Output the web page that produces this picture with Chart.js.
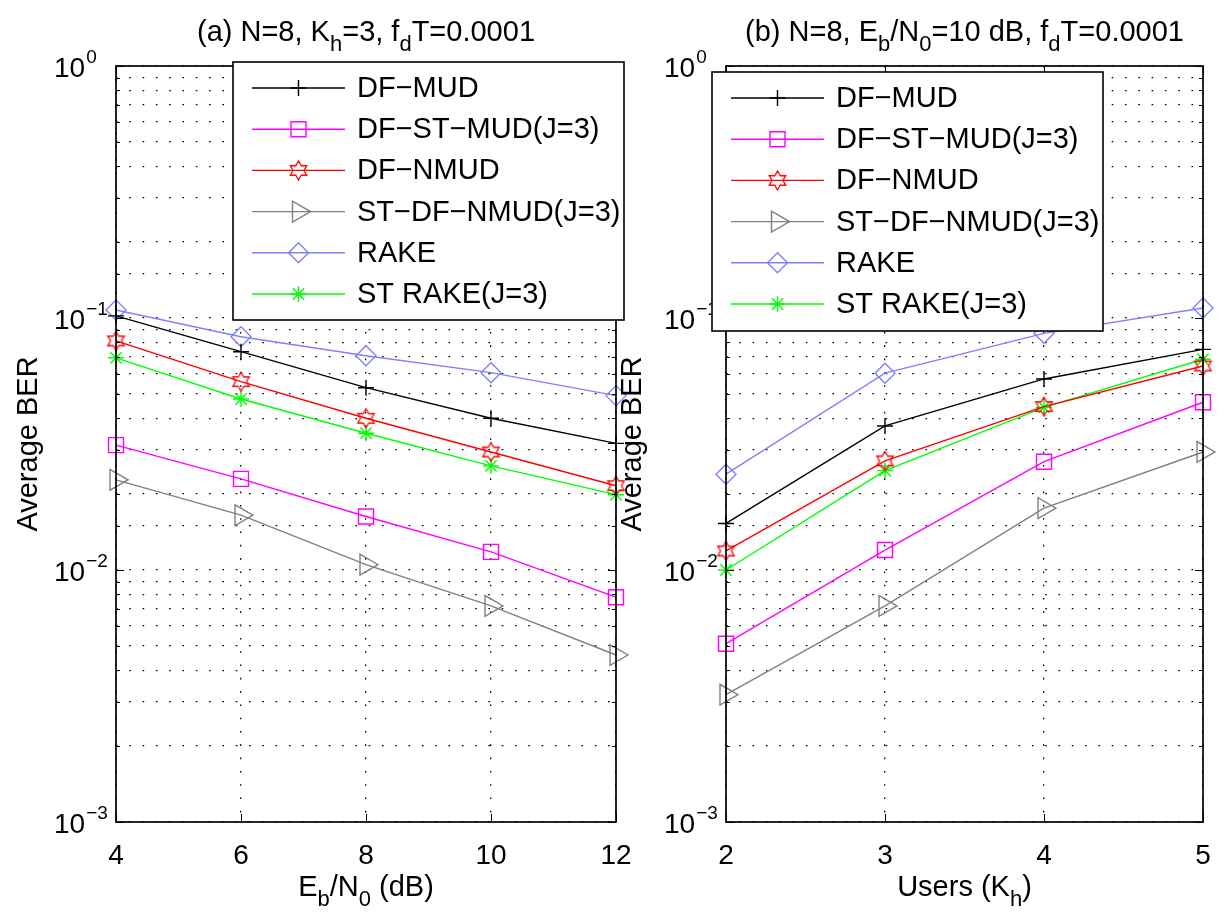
<!DOCTYPE html>
<html>
<head>
<meta charset="utf-8">
<script src="https://cdn.jsdelivr.net/npm/chart.js"></script>
<style>
  html, body { margin: 0; padding: 0; background: #fff; }
  #wrap { position: relative; width: 1224px; height: 917px; }
  #wrap canvas { position: absolute; left: 0; top: 0; }
</style>
</head>
<body>
<div id="wrap">
  <canvas id="chartA" width="1224" height="917"></canvas>
  <canvas id="chartB" width="1224" height="917"></canvas>
</div>
<script>
// x values
const ebN0 = [4, 6, 8, 10, 12];
const usersK = [2, 3, 4, 5];

// tick labels
const xTicksA = [4, 6, 8, 10, 12];
const xTicksB = [2, 3, 4, 5];
const yDecades = [1, 0.1, 0.01, 0.001];
const yDecadeExp = ['0', '−1', '−2', '−3'];

const seriesNames = ['DF−MUD', 'DF−ST−MUD(J=3)', 'DF−NMUD', 'ST−DF−NMUD(J=3)', 'RAKE', 'ST RAKE(J=3)'];

// (a) BER vs Eb/N0
const berA_dfMud    = [0.102, 0.0735, 0.0529, 0.0400, 0.0318];
const berA_dfStMud  = [0.0313, 0.0230, 0.0163, 0.0118, 0.0078];
const berA_dfNmud   = [0.0811, 0.0559, 0.0400, 0.0294, 0.0216];
const berA_stDfNmud = [0.0228, 0.0165, 0.0105, 0.0072, 0.0046];
const berA_rake     = [0.1076, 0.0843, 0.0708, 0.0607, 0.0492];
const berA_stRake   = [0.0695, 0.0477, 0.0349, 0.0259, 0.0199];

// (b) BER vs users
const berB_dfMud    = [0.0153, 0.0373, 0.0573, 0.0751];
const berB_dfStMud  = [0.0051, 0.0120, 0.0269, 0.0463];
const berB_dfNmud   = [0.0119, 0.0271, 0.0445, 0.0645];
const berB_stDfNmud = [0.0032, 0.0072, 0.0176, 0.0294];
const berB_rake     = [0.0240, 0.0604, 0.0869, 0.1096];
const berB_stRake   = [0.0100, 0.0248, 0.0442, 0.0686];

const FONT = "'Liberation Sans', Arial, Helvetica, sans-serif";
const LW = 1.4;

// matlab hexagram marker, Chart.js has none
function hexagram(color, R) {
  const s = Math.ceil(2 * R + 4);
  const c = document.createElement('canvas');
  c.width = s; c.height = s;
  const g = c.getContext('2d');
  g.strokeStyle = color; g.lineWidth = 1.3;
  g.beginPath();
  const r = R / Math.sqrt(3);
  for (let k = 0; k < 12; k++) {
    const ang = -Math.PI / 2 + k * Math.PI / 6;
    const rr = k % 2 ? r : R;
    const px = s / 2 + rr * Math.cos(ang), py = s / 2 + rr * Math.sin(ang);
    if (k) g.lineTo(px, py); else g.moveTo(px, py);
  }
  g.closePath(); g.stroke();
  return c;
}

const seriesStyle = [
  { color: '#000000', point: 'cross', radius: 8 },
  { color: '#ff00ff', point: 'rect', radius: 10.6 },
  { color: '#ff0000', point: hexagram('#ff0000', 9.5), radius: 10 },
  { color: '#808080', point: 'triangle', rotation: 90, radius: 12 },
  { color: '#8080ff', point: 'rectRot', radius: 10 },
  { color: '#00ff00', point: 'star', radius: 8 }
];

function drawRich(ctx, parts, x, y, size, align) {
  const small = Math.round(size * 0.75);
  let w = 0;
  parts.forEach(([t, k]) => { ctx.font = (k ? small : size) + 'px ' + FONT; w += ctx.measureText(t).width; });
  let cx = align === 'center' ? x - w / 2 : (align === 'right' ? x - w : x);
  ctx.textAlign = 'left';
  ctx.textBaseline = 'alphabetic';
  parts.forEach(([t, k]) => {
    ctx.font = (k ? small : size) + 'px ' + FONT;
    const dy = k === 'sub' ? size * 0.33 : (k === 'sup' ? -size * 0.45 : 0);
    ctx.fillText(t, cx, y + dy);
    cx += ctx.measureText(t).width;
  });
}

const matlabDecor = {
  id: 'matlabDecor',
  afterDraw(chart, args, o) {
    const { ctx, chartArea: a } = chart;
    const x = chart.scales.x, y = chart.scales.y;
    ctx.save();
    ctx.fillStyle = '#000';
    ctx.strokeStyle = '#000';

    // inner tick marks
    ctx.lineWidth = 1;
    ctx.beginPath();
    y.ticks.forEach(t => {
      const lg = Math.log10(t.value);
      const major = Math.abs(lg - Math.round(lg)) < 1e-6;
      const len = major ? 8 : 4;
      const py = Math.round(y.getPixelForValue(t.value)) + 0.5;
      ctx.moveTo(a.left, py); ctx.lineTo(a.left + len, py);
      ctx.moveTo(a.right, py); ctx.lineTo(a.right - len, py);
    });
    o.xTicks.forEach(v => {
      const px = Math.round(x.getPixelForValue(v)) + 0.5;
      ctx.moveTo(px, a.bottom); ctx.lineTo(px, a.bottom - 8);
      ctx.moveTo(px, a.top); ctx.lineTo(px, a.top + 8);
    });
    ctx.stroke();

    // frame
    ctx.lineWidth = 1.7;
    ctx.strokeRect(a.left, a.top, a.right - a.left, a.bottom - a.top);

    // y tick labels 10^k
    yDecades.forEach((v, i) => {
      const py = y.getPixelForValue(v);
      ctx.font = '28px ' + FONT;
      ctx.textAlign = 'left'; ctx.textBaseline = 'alphabetic';
      const x0 = a.left - 62;
      ctx.fillText('10', x0, py + 10.5);
      const w = ctx.measureText('10').width;
      ctx.font = '19px ' + FONT;
      ctx.fillText(yDecadeExp[i], x0 + w + 1, py - 3);
    });

    // x tick labels
    ctx.font = '28px ' + FONT;
    ctx.textAlign = 'center'; ctx.textBaseline = 'alphabetic';
    o.xTicks.forEach(v => ctx.fillText(String(v), x.getPixelForValue(v), 864));

    // titles
    const cxA = (a.left + a.right) / 2;
    drawRich(ctx, o.title, cxA, 41, 29, 'center');
    drawRich(ctx, o.xTitle, cxA, 896, 29, 'center');

    ctx.save();
    ctx.translate(o.yTitleX, (a.top + a.bottom) / 2);
    ctx.rotate(-Math.PI / 2);
    ctx.font = '29px ' + FONT;
    ctx.textAlign = 'center'; ctx.textBaseline = 'middle';
    ctx.fillText('Average BER', 0, 0);
    ctx.restore();

    // legend box
    const L = o.legend;
    ctx.fillStyle = '#fff';
    ctx.fillRect(L.x, L.y, L.w, L.h);
    ctx.lineWidth = 1.6;
    ctx.strokeStyle = '#000';
    ctx.strokeRect(L.x, L.y, L.w, L.h);
    chart.data.datasets.forEach((ds, i) => {
      const st = seriesStyle[i];
      const ry = L.y + 26 + i * 41.2;
      ctx.strokeStyle = st.color;
      ctx.lineWidth = LW;
      ctx.beginPath();
      ctx.moveTo(L.x + 19, ry); ctx.lineTo(L.x + 112, ry);
      ctx.stroke();
      const mx = L.x + 65.5;
      ctx.fillStyle = 'rgba(0,0,0,0)';
      if (Chart.helpers && Chart.helpers.drawPoint) {
        Chart.helpers.drawPoint(ctx, { pointStyle: st.point, rotation: st.rotation || 0, radius: st.radius, borderWidth: LW }, mx, ry);
      }
      ctx.fillStyle = '#000';
      ctx.font = '29px ' + FONT;
      ctx.textAlign = 'left'; ctx.textBaseline = 'middle';
      ctx.fillText(ds.label, L.x + 124, ry + 1);
    });
    ctx.restore();
  }
};

function makeChart(id, xs, series, xmin, xmax, step, pad, deco) {
  const dotted = { color: '#000', lineWidth: 1.3, drawTicks: false };
  const dots = { display: false, dash: [1.6, 11.7] };
  return new Chart(document.getElementById(id), {
    type: 'line',
    data: {
      datasets: series.map((vals, i) => ({
        label: seriesNames[i],
        data: xs.map((xv, j) => ({ x: xv, y: vals[j] })),
        borderColor: seriesStyle[i].color,
        backgroundColor: 'rgba(0,0,0,0)',
        borderWidth: LW,
        pointStyle: seriesStyle[i].point,
        pointRotation: seriesStyle[i].rotation || 0,
        pointRadius: seriesStyle[i].radius,
        pointBorderWidth: LW,
        pointBorderColor: seriesStyle[i].color,
        pointBackgroundColor: 'rgba(0,0,0,0)',
        tension: 0,
        clip: false
      }))
    },
    options: {
      responsive: false,
      animation: false,
      events: [],
      layout: { padding: pad },
      plugins: { legend: { display: false }, tooltip: { enabled: false }, matlabDecor: deco },
      scales: {
        x: {
          type: 'linear', min: xmin, max: xmax,
          ticks: { stepSize: step, display: false },
          grid: dotted, border: dots,
          afterFit(s) { s.height = 0; }
        },
        y: {
          type: 'logarithmic', min: 0.001, max: 1,
          ticks: { display: false },
          grid: dotted, border: dots,
          afterFit(s) { s.width = 0; }
        }
      }
    },
    plugins: [matlabDecor]
  });
}

makeChart('chartA', ebN0,
  [berA_dfMud, berA_dfStMud, berA_dfNmud, berA_stDfNmud, berA_rake, berA_stRake],
  4, 12, 2,
  { left: 116, right: 608, top: 66, bottom: 95 },
  {
    xTicks: xTicksA,
    title: [['(a) N=8, K'], ['h', 'sub'], ['=3, f'], ['d', 'sub'], ['T=0.0001']],
    xTitle: [['E'], ['b', 'sub'], ['/N'], ['0', 'sub'], [' (dB)']],
    yTitleX: 29,
    legend: { x: 233, y: 62, w: 391, h: 258 }
  });

makeChart('chartB', usersK,
  [berB_dfMud, berB_dfStMud, berB_dfNmud, berB_stDfNmud, berB_rake, berB_stRake],
  2, 5, 1,
  { left: 726, right: 21, top: 66, bottom: 95 },
  {
    xTicks: xTicksB,
    title: [['(b) N=8, E'], ['b', 'sub'], ['/N'], ['0', 'sub'], ['=10 dB, f'], ['d', 'sub'], ['T=0.0001']],
    xTitle: [['Users (K'], ['h', 'sub'], [')']],
    yTitleX: 633,
    legend: { x: 712, y: 72, w: 391, h: 259 }
  });
</script>
</body>
</html>
